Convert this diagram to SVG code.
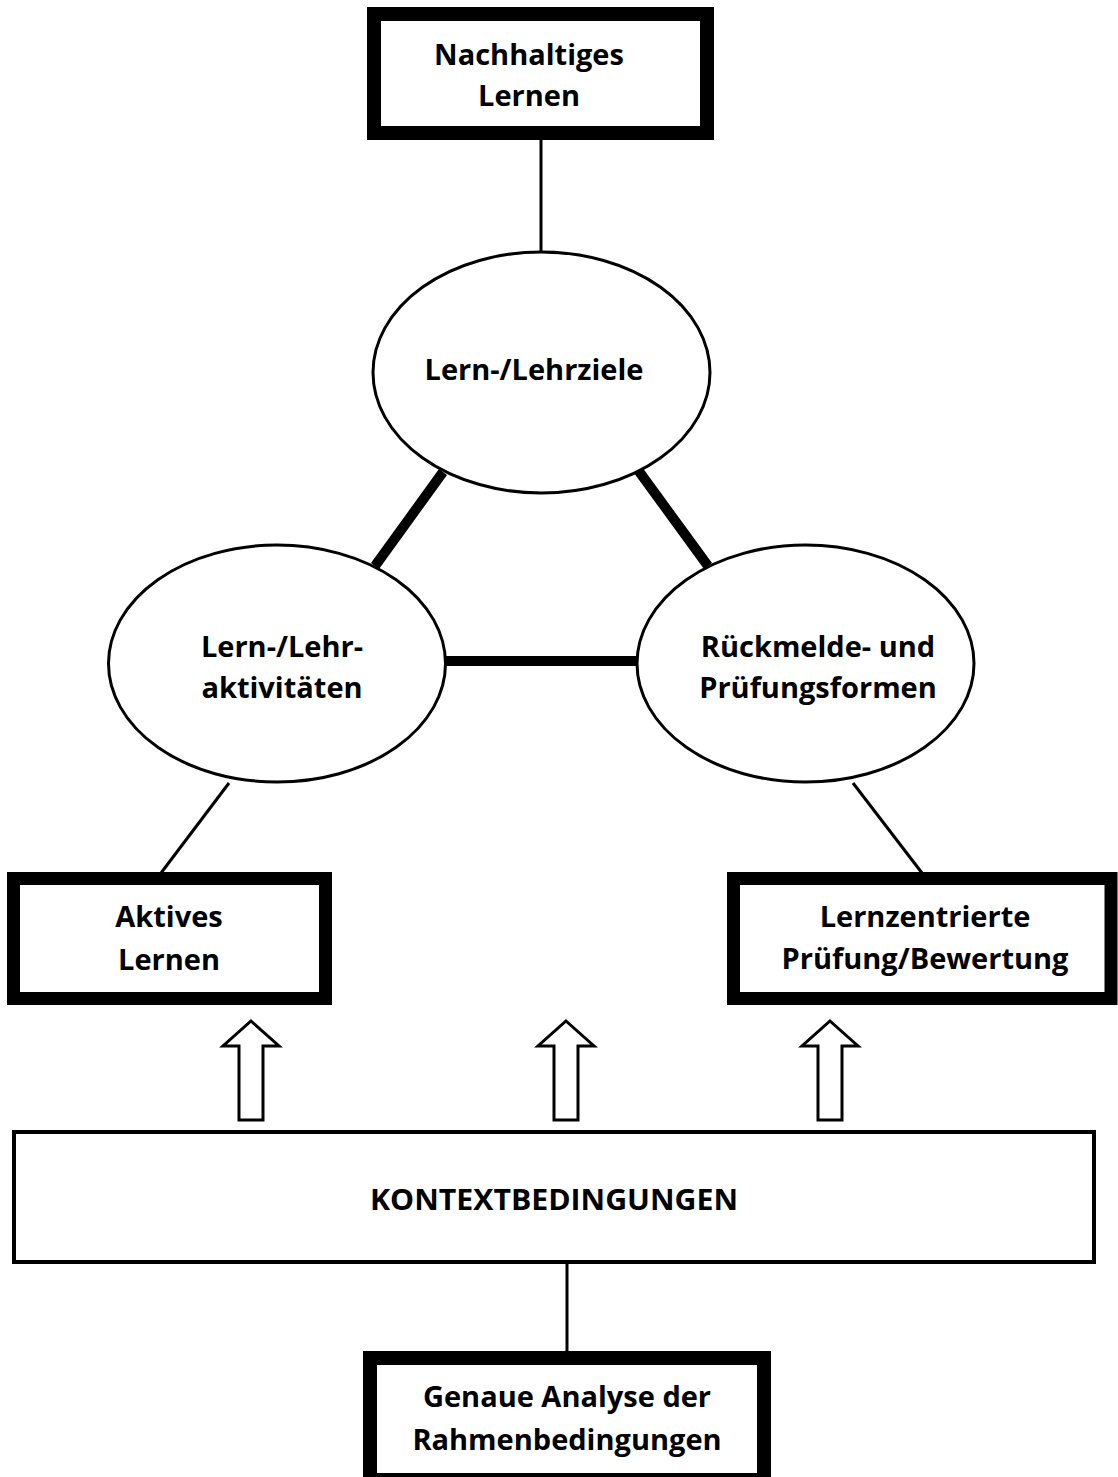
<svg xmlns="http://www.w3.org/2000/svg" width="1118" height="1477" viewBox="0 0 1118 1477">
<style>
text{font-family:"Open Sans","Noto Sans","Liberation Sans",sans-serif;font-weight:700;font-size:29px;fill:#000;text-anchor:middle}
.box{fill:#fff;stroke:#000;stroke-width:14}
.ell{fill:#fff;stroke:#000;stroke-width:3}
.thin{stroke:#000;stroke-width:3;fill:none}
.thick{stroke:#000;stroke-width:10;fill:none}
.arrow{fill:#fff;stroke:#000;stroke-width:3;stroke-linejoin:miter}
.ctx{fill:#fff;stroke:#000;stroke-width:4}
</style>
<rect width="1118" height="1477" fill="#fff"/>
<g id="connectors">
<line class="thin" x1="541" y1="140" x2="541" y2="253"/>
<line class="thick" x1="443" y1="472" x2="375" y2="566"/>
<line class="thick" x1="638" y1="470" x2="708" y2="566"/>
<line class="thick" x1="445" y1="661" x2="637" y2="661"/>
<line class="thin" x1="229" y1="783" x2="161" y2="873"/>
<line class="thin" x1="853" y1="783" x2="922" y2="873"/>
<line class="thin" x1="567" y1="1262" x2="567" y2="1352"/>
<polygon class="arrow" points="251,1021 279,1046 263,1046 263,1120 239,1120 239,1046 223,1046"/>
<polygon class="arrow" points="566,1021 594,1046 578,1046 578,1120 554,1120 554,1046 538,1046"/>
<polygon class="arrow" points="830,1021 858,1046 842,1046 842,1120 818,1120 818,1046 802,1046"/>
</g>
<g id="nachhaltiges">
<rect class="box" x="374" y="14" width="333" height="119"/>
<text x="529" y="65">Nachhaltiges</text>
<text x="529" y="106">Lernen</text>
</g>
<g id="lehrziele">
<ellipse class="ell" cx="541.5" cy="372.5" rx="168.5" ry="120.5"/>
<text x="534" y="380">Lern-/Lehrziele</text>
</g>
<g id="aktivitaeten">
<ellipse class="ell" cx="277" cy="663.5" rx="168.5" ry="118.5"/>
<text x="282" y="657">Lern-/Lehr-</text>
<text x="282" y="698">aktivitäten</text>
</g>
<g id="pruefungsformen">
<ellipse class="ell" cx="805.5" cy="663.5" rx="168.5" ry="118.5"/>
<text x="818" y="657">Rückmelde- und</text>
<text x="818" y="698">Prüfungsformen</text>
</g>
<g id="aktives">
<rect class="box" x="13.5" y="878.5" width="312" height="120" style="stroke-width:13"/>
<text x="169" y="927">Aktives</text>
<text x="169" y="970">Lernen</text>
</g>
<g id="lernzentriert">
<rect class="box" x="733.5" y="878.5" width="377.5" height="120" style="stroke-width:13"/>
<text x="925" y="927">Lernzentrierte</text>
<text x="925" y="969">Prüfung/Bewertung</text>
</g>
<g id="kontext">
<rect class="ctx" x="14" y="1132" width="1080" height="130"/>
<text x="554" y="1210" textLength="368" lengthAdjust="spacingAndGlyphs">KONTEXTBEDINGUNGEN</text>
</g>
<g id="analyse">
<rect class="box" x="370" y="1358" width="394" height="122"/>
<text x="567" y="1407">Genaue Analyse der</text>
<text x="567" y="1450">Rahmenbedingungen</text>
</g>
</svg>
